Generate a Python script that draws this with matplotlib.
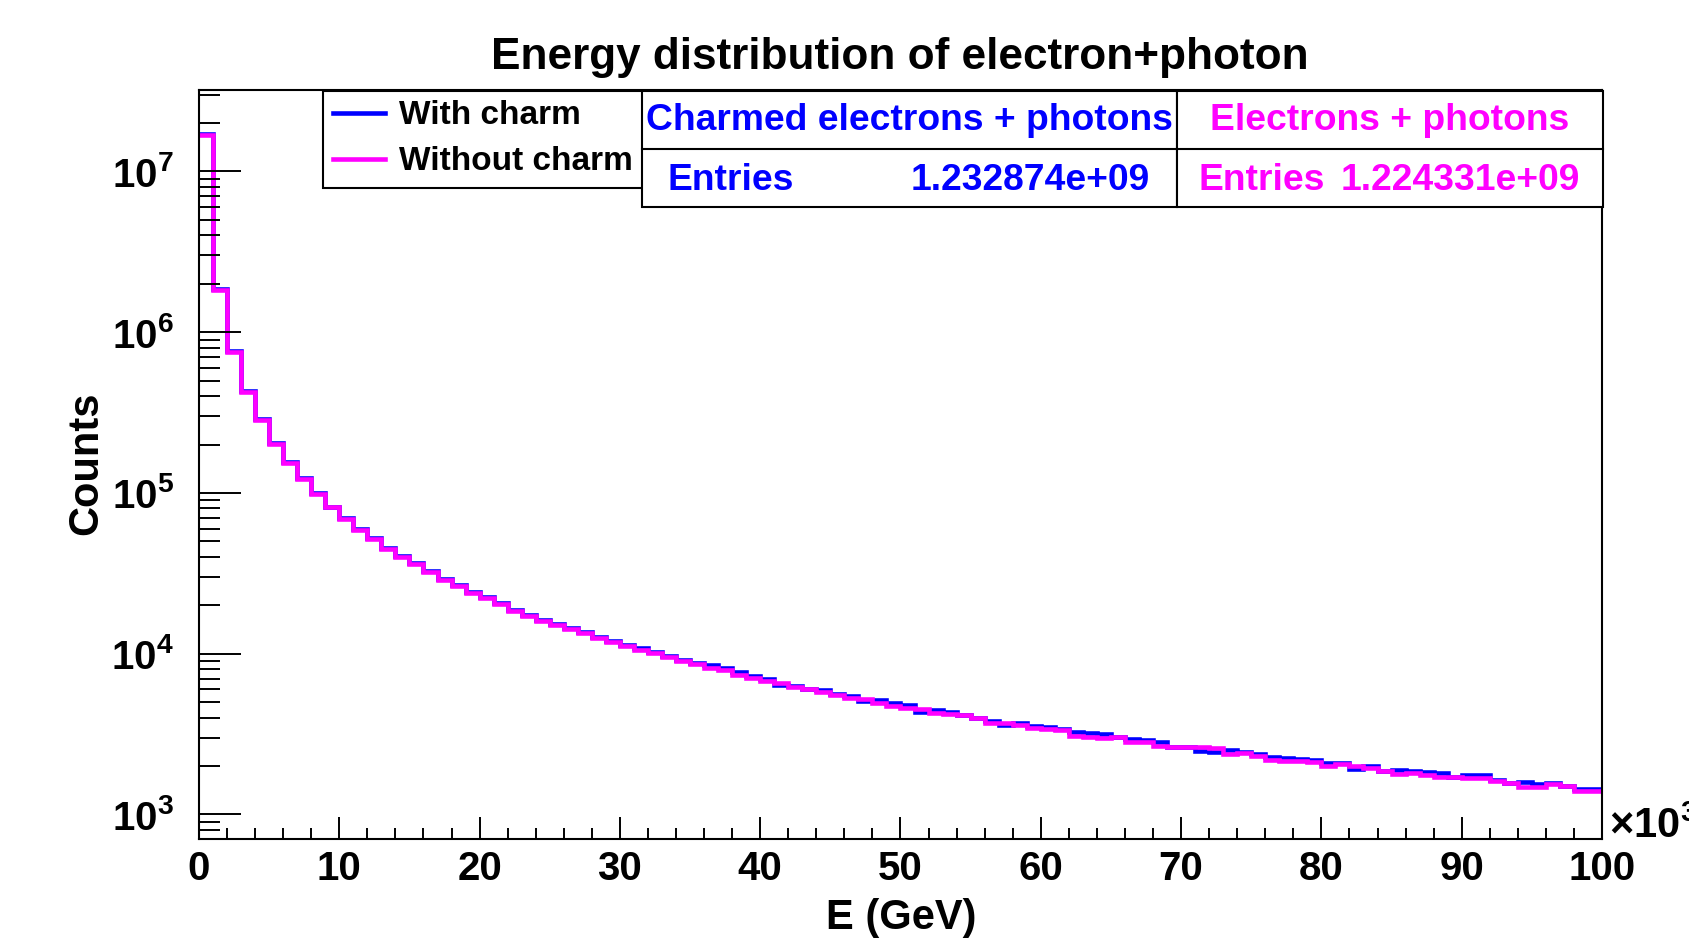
import numpy as np
import matplotlib
matplotlib.use("Agg")
import matplotlib.pyplot as plt
from matplotlib.ticker import LogLocator, FuncFormatter, MultipleLocator, NullFormatter
from matplotlib.patches import Rectangle
from matplotlib.lines import Line2D

plt.rcParams['font.family'] = ['Liberation Sans', 'DejaVu Sans']
plt.rcParams['font.weight'] = 'bold'
plt.rcParams['mathtext.fontset'] = 'custom'
plt.rcParams['mathtext.rm'] = 'Liberation Sans'
plt.rcParams['mathtext.bf'] = 'Liberation Sans:bold'

blue = "#0000ff"
magenta = "#ff00ff"

# bin edges in units of 10^3 GeV
edges = np.arange(0, 101, 1)

with_charm = [
    1.70e7, 1.85e6, 7.62e5, 4.30e5, 2.87e5, 2.03e5, 1.56e5, 1.23e5, 1.00e5, 8.22e4,
    6.96e4, 5.93e4, 5.22e4, 4.54e4, 4.05e4, 3.64e4, 3.27e4, 2.92e4, 2.68e4, 2.43e4,
    2.24e4, 2.07e4, 1.88e4, 1.74e4, 1.62e4, 1.53e4, 1.44e4, 1.36e4, 1.27e4, 1.20e4,
    1.14e4, 1.08e4, 1.02e4, 9.72e3, 9.18e3, 8.75e3, 8.49e3, 8.10e3, 7.71e3, 7.28e3,
    6.92e3, 6.38e3, 6.25e3, 6.00e3, 5.93e3, 5.60e3, 5.45e3, 5.05e3, 5.14e3, 4.91e3,
    4.79e3, 4.35e3, 4.44e3, 4.34e3, 4.18e3, 3.98e3, 3.82e3, 3.58e3, 3.70e3, 3.54e3,
    3.49e3, 3.41e3, 3.24e3, 3.21e3, 3.15e3, 3.01e3, 2.93e3, 2.90e3, 2.83e3, 2.64e3,
    2.64e3, 2.49e3, 2.45e3, 2.50e3, 2.43e3, 2.36e3, 2.26e3, 2.25e3, 2.20e3, 2.18e3,
    2.08e3, 2.08e3, 1.91e3, 2.01e3, 1.87e3, 1.90e3, 1.85e3, 1.83e3, 1.82e3, 1.71e3,
    1.75e3, 1.76e3, 1.63e3, 1.56e3, 1.58e3, 1.54e3, 1.56e3, 1.51e3, 1.44e3, 1.44e3,
]

without_charm = [
    1.69e7, 1.83e6, 7.56e5, 4.26e5, 2.84e5, 2.01e5, 1.54e5, 1.22e5, 9.85e4, 8.13e4,
    6.88e4, 5.88e4, 5.16e4, 4.48e4, 4.01e4, 3.59e4, 3.23e4, 2.87e4, 2.65e4, 2.39e4,
    2.21e4, 2.04e4, 1.85e4, 1.71e4, 1.60e4, 1.51e4, 1.42e4, 1.34e4, 1.25e4, 1.18e4,
    1.12e4, 1.06e4, 1.01e4, 9.57e3, 9.04e3, 8.58e3, 8.10e3, 7.91e3, 7.36e3, 7.08e3,
    6.76e3, 6.60e3, 6.23e3, 6.05e3, 5.77e3, 5.55e3, 5.27e3, 5.22e3, 4.95e3, 4.72e3,
    4.57e3, 4.52e3, 4.25e3, 4.21e3, 4.15e3, 3.95e3, 3.72e3, 3.68e3, 3.59e3, 3.46e3,
    3.40e3, 3.33e3, 3.07e3, 3.01e3, 2.97e3, 3.01e3, 2.83e3, 2.83e3, 2.67e3, 2.64e3,
    2.64e3, 2.61e3, 2.58e3, 2.38e3, 2.41e3, 2.31e3, 2.18e3, 2.15e3, 2.15e3, 2.13e3,
    2.01e3, 2.05e3, 2.00e3, 1.95e3, 1.86e3, 1.78e3, 1.82e3, 1.76e3, 1.70e3, 1.70e3,
    1.68e3, 1.68e3, 1.62e3, 1.57e3, 1.49e3, 1.48e3, 1.54e3, 1.50e3, 1.40e3, 1.40e3,
]

entries_charm = "1.232874e+09"
entries_nocharm = "1.224331e+09"

W, H = 1690, 942


def fx(x):
    return x / W


def fy(y):
    return 1 - y / H


fig = plt.figure(figsize=(W / 100, H / 100), dpi=100)
ax = fig.add_axes([fx(199), fy(838.5), (1602 - 199) / W, (838.5 - 90) / H])

ax.stairs(with_charm, edges, color=blue, lw=3.3, baseline=None)
ax.stairs(without_charm, edges, color=magenta, lw=3.3, baseline=None)

ax.set_yscale("log")
ax.set_xlim(0, 100)
ax.set_ylim(708, 3.21e7)

ax.xaxis.set_major_locator(MultipleLocator(10))
ax.xaxis.set_minor_locator(MultipleLocator(2))
ax.yaxis.set_major_locator(LogLocator(base=10, numticks=20))
ax.yaxis.set_minor_locator(LogLocator(base=10, subs=np.arange(2, 10), numticks=20))
ax.yaxis.set_major_formatter(FuncFormatter(lambda v, p: r"$\mathbf{10^{%d}}$" % round(np.log10(v))))
ax.yaxis.set_minor_formatter(NullFormatter())
ax.xaxis.set_major_formatter(FuncFormatter(lambda v, p: f"{v:.0f}"))

ax.tick_params(axis="x", which="major", direction="in", length=15.8, width=1.4, labelsize=29, pad=8)
ax.tick_params(axis="x", which="minor", direction="in", length=7.9, width=1.4)
ax.tick_params(axis="y", which="major", direction="in", length=30.2, width=1.4, labelsize=29, pad=18)
ax.tick_params(axis="y", which="minor", direction="in", length=15.1, width=1.4)
for lab in ax.get_xticklabels() + ax.get_yticklabels():
    lab.set_fontweight("bold")
for s in ax.spines.values():
    s.set_linewidth(1.5)

fig.text(fx(900), fy(69), "Energy distribution of electron+photon", ha="center", va="baseline",
         fontsize=31.8, fontweight="bold")
fig.text(fx(86), fy(463), "Counts", ha="center", va="center", rotation=90, fontsize=30, fontweight="bold")
fig.text(fx(901), fy(918), "E (GeV)", ha="center", va="center", fontsize=30, fontweight="bold")
fig.text(fx(1609), fy(838), r"$\times\mathbf{10^{3}}$", ha="left", va="baseline", fontsize=30)

# legend
leg = ax.legend(
    handles=[Line2D([0], [0], color=blue, lw=3.3), Line2D([0], [0], color=magenta, lw=3.3)],
    labels=["With charm", "Without charm"],
    loc="upper left", bbox_to_anchor=(fx(323), fy(90.5)), bbox_transform=fig.transFigure,
    prop={"size": 24, "weight": "bold"}, frameon=True, fancybox=False, shadow=False,
    handlelength=1.55, handletextpad=0.42, borderpad=0.3, labelspacing=0.45, borderaxespad=0,
)
leg.get_frame().set_edgecolor("black")
leg.get_frame().set_linewidth(1.5)
leg.get_frame().set_alpha(1)

# stats boxes
top, mid, bot = 90.5, 149, 207
for x0, x1 in [(642, 1177), (1177, 1603)]:
    fig.add_artist(Rectangle((fx(x0), fy(bot)), (x1 - x0) / W, (bot - top) / H,
                             transform=fig.transFigure, facecolor="white", edgecolor="black", lw=1.5, zorder=5))
    fig.add_artist(Line2D([fx(x0), fx(x1)], [fy(mid), fy(mid)], transform=fig.transFigure,
                          color="black", lw=1.5, zorder=6))

fig.text(fx(909.5), fy(130), "Charmed electrons + photons", ha="center", va="baseline",
         fontsize=26.8, fontweight="bold", color=blue, zorder=7)
fig.text(fx(668), fy(190), "Entries", ha="left", va="baseline", fontsize=26.8, fontweight="bold",
         color=blue, zorder=7)
fig.text(fx(1150), fy(190), entries_charm, ha="right", va="baseline", fontsize=26.8, fontweight="bold",
         color=blue, zorder=7)

fig.text(fx(1390), fy(130), "Electrons + photons", ha="center", va="baseline",
         fontsize=26.8, fontweight="bold", color=magenta, zorder=7)
fig.text(fx(1199), fy(190), "Entries", ha="left", va="baseline", fontsize=26.8, fontweight="bold",
         color=magenta, zorder=7)
fig.text(fx(1580), fy(190), entries_nocharm, ha="right", va="baseline", fontsize=26.8, fontweight="bold",
         color=magenta, zorder=7)

fig.savefig("out.png", dpi=100)
